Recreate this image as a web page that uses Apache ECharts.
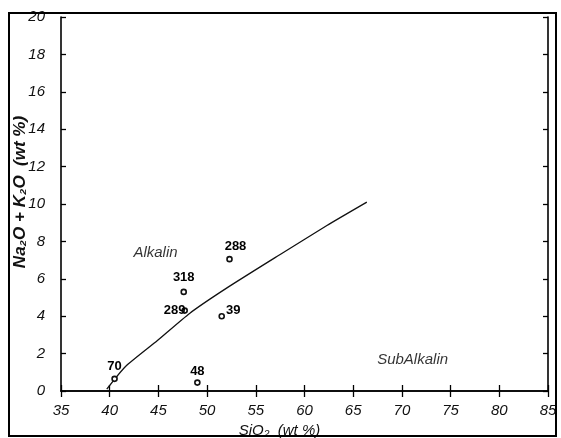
<!DOCTYPE html>
<html>
<head>
<meta charset="utf-8">
<script src="https://cdn.jsdelivr.net/npm/echarts@6/dist/echarts.min.js"></script>
<style>html,body{margin:0;padding:0;background:#fff}#c{width:561px;height:438px}</style>
</head>
<body>
<div id="c"></div>
<script>
// Samples: [SiO2, Na2O+K2O, label]
const sampleIds = ['70', '48', '288', '318', '289', '39'];
const sampleSiO2 = [40.5, 49.0, 52.3, 47.6, 47.7, 51.5];
const sampleAlk = [0.65, 0.45, 7.05, 5.3, 4.3, 4.0];
// Alkaline / subalkaline divide
const divideSiO2 = [39.7, 41.6, 44.9, 48.2, 52.0, 57.5, 62.3, 66.4];
const divideAlk = [0.1, 1.3, 2.7, 4.15, 5.5, 7.3, 8.85, 10.1];
// Field names
const fieldNames = ['Alkalin', 'SubAlkalin'];
const fieldSiO2 = [44.7, 71.1];
const fieldAlk = [7.4, 1.66];
const xTicks = [35, 40, 45, 50, 55, 60, 65, 70, 75, 80, 85];
const yTicks = [0, 2, 4, 6, 8, 10, 12, 14, 16, 18, 20];

const labelPos = {
  '70': {position: 'top', distance: 3},
  '48': {position: 'top', distance: 1},
  '288': {position: 'top', distance: 3, offset: [6, 0]},
  '318': {position: 'top', distance: 5},
  '289': {position: 'left', distance: -4},
  '39': {position: 'right', distance: 1, offset: [0, -6]}
};

const chart = echarts.init(document.getElementById('c'));
const axisFont = {fontFamily: 'Liberation Sans, Arial, sans-serif', fontStyle: 'italic', fontSize: 15, color: '#111'};
const baseX = {type: 'value', min: xTicks[0], max: xTicks[xTicks.length - 1], interval: 5, gridIndex: 0,
  axisLine: {show: true, lineStyle: {color: '#000', width: 1.6}},
  axisTick: {show: true, inside: true, length: 6, lineStyle: {color: '#000', width: 1.3}},
  splitLine: {show: false}};
const baseY = {type: 'value', min: yTicks[0], max: yTicks[yTicks.length - 1], interval: 2, gridIndex: 0,
  axisLine: {show: true, lineStyle: {color: '#000', width: 1.6}},
  axisTick: {show: true, inside: true, length: 5, lineStyle: {color: '#000', width: 1.3}},
  splitLine: {show: false}};

chart.setOption({
  animation: false,
  backgroundColor: '#fff',
  grid: {left: 61, right: 13, top: 17, bottom: 47, containLabel: false, outerBoundsMode: 'none'},
  xAxis: [
    Object.assign({}, baseX, {position: 'bottom',
      axisLabel: Object.assign({margin: 12}, axisFont),
      name: 'SiO\u2082  (wt %)', nameLocation: 'middle', nameGap: 31,
      nameTextStyle: Object.assign({}, axisFont, {fontSize: 15, padding: [0, 50, 0, 0]})}),
    Object.assign({}, baseX, {position: 'top', axisLabel: {show: false}})
  ],
  yAxis: [
    Object.assign({}, baseY, {position: 'left',
      axisLabel: Object.assign({margin: 16}, axisFont),
      name: 'Na\u2082O + K\u2082O  (wt %)', nameLocation: 'middle', nameGap: 32, nameMoveOverlap: false,
      nameTextStyle: Object.assign({}, axisFont, {fontSize: 17, fontWeight: 'bold', padding: [0, 0, 0, 24]})}),
    Object.assign({}, baseY, {position: 'right', axisLabel: {show: false}})
  ],
  graphic: [{type: 'rect', shape: {x: 9, y: 13, width: 547, height: 423},
    style: {fill: 'none', stroke: '#000', lineWidth: 2}, z: 100}],
  series: [
    {type: 'line', xAxisIndex: 0, yAxisIndex: 0, showSymbol: false, smooth: 0.2,
      data: divideSiO2.map((x, i) => [x, divideAlk[i]]),
      lineStyle: {color: '#111', width: 1.3}},
    {type: 'scatter', xAxisIndex: 0, yAxisIndex: 0, symbol: 'circle', symbolSize: 5,
      itemStyle: {color: '#fff', borderColor: '#111', borderWidth: 1.6, opacity: 1},
      z: 5,
      data: sampleIds.map((id, i) => ({value: [sampleSiO2[i], sampleAlk[i]],
        label: Object.assign({show: true, formatter: id, fontFamily: 'Liberation Sans, Arial, sans-serif',
          fontWeight: 'bold', fontSize: 13, color: '#000', opacity: 1}, labelPos[id])}))},
    {type: 'scatter', xAxisIndex: 0, yAxisIndex: 0, symbolSize: 0, silent: true,
      data: fieldNames.map((n, i) => ({value: [fieldSiO2[i], fieldAlk[i]],
        label: {show: true, position: 'inside', formatter: n, fontFamily: 'Liberation Sans, Arial, sans-serif',
          fontStyle: 'italic', fontSize: 15, color: '#000'}}))}
  ]
});
</script>
</body>
</html>
